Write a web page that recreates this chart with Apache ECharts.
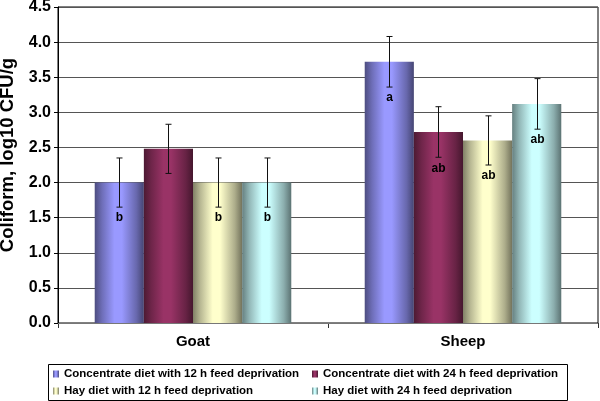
<!DOCTYPE html>
<html><head><meta charset="utf-8">
<script src="https://cdn.jsdelivr.net/npm/echarts@6/dist/echarts.min.js"></script>
<style>html,body{margin:0;padding:0;background:#fff}#c{width:600px;height:401px}</style>
</head><body><div id="c"></div>
<script>
const categories = ['Goat', 'Sheep'];
const seriesNames = [
  'Concentrate diet with 12 h feed deprivation',
  'Concentrate diet with 24 h feed deprivation',
  'Hay diet with 12 h feed deprivation',
  'Hay diet with 24 h feed deprivation'
];
const conc12 = [2.00, 3.72];
const conc24 = [2.48, 2.72];
const hay12 = [2.00, 2.60];
const hay24 = [2.00, 3.12];
const conc12Err = [0.35, 0.36];
const conc24Err = [0.35, 0.36];
const hay12Err = [0.35, 0.35];
const hay24Err = [0.35, 0.36];
const conc12Letters = ['b', 'a'];
const conc24Letters = ['', 'ab'];
const hay12Letters = ['b', 'ab'];
const hay24Letters = ['b', 'ab'];
const yTicks = [0, 0.5, 1.0, 1.5, 2.0, 2.5, 3.0, 3.5, 4.0, 4.5];

const values = [conc12, conc24, hay12, hay24];
const errs = [conc12Err, conc24Err, hay12Err, hay24Err];
const letters = [conc12Letters, conc24Letters, hay12Letters, hay24Letters];
const baseColors = [[153,153,255],[153,51,102],[255,255,204],[204,255,255]];

function rgb(c, f){ return 'rgb(' + c.map(v => Math.round(v*f)).join(',') + ')'; }
function grad(c){
  return new echarts.graphic.LinearGradient(0,0,1,0,[
    {offset:0, color: rgb(c,0.5)},
    {offset:0.15, color: rgb(c,0.72)},
    {offset:0.4, color: rgb(c,1)},
    {offset:0.55, color: rgb(c,1)},
    {offset:0.85, color: rgb(c,0.68)},
    {offset:1, color: rgb(c,0.45)}
  ]);
}
const FONT = '"Liberation Sans", Arial, sans-serif';
const barCatGap = 0.272;

const series = [];
values.forEach((vals, i) => {
  series.push({
    name: seriesNames[i], type: 'bar', data: vals,
    barGap: '0%', barCategoryGap: '27.2%',
    itemStyle: { color: grad(baseColors[i]) },
    emphasis: { disabled: true }
  });
});
values.forEach((vals, i) => {
  series.push({
    type: 'custom', silent: true, z: 10,
    data: vals.map((v, k) => [k, v, errs[i][k]]),
    renderItem: function(params, api){
      const k = api.value(0), v = api.value(1), e = api.value(2);
      const lab = letters[i][k];
      const catW = api.size([1, 0])[0];
      const barW = catW * (1 - barCatGap) / 4;
      const x = Math.round(api.coord([k, v])[0] + (i - 1.5) * barW) + 0.5;
      const yHi = api.coord([k, v + e])[1];
      const yLo = api.coord([k, v - e])[1];
      const st = { stroke: '#111', lineWidth: 1 };
      const children = [
        { type: 'line', shape: { x1: x, y1: yHi, x2: x, y2: yLo }, style: st },
        { type: 'line', shape: { x1: x-3, y1: yHi, x2: x+3, y2: yHi }, style: st },
        { type: 'line', shape: { x1: x-3, y1: yLo, x2: x+3, y2: yLo }, style: st }
      ];
      if (lab) children.push({ type: 'text', style: { text: lab, x: x, y: yLo + 11, align: 'center', verticalAlign: 'middle', font: 'bold 12px ' + FONT, fill: '#000' } });
      return { type: 'group', children: children };
    }
  });
});

const legendText = { fontFamily: FONT, fontWeight: 'bold', fontSize: 11.5, color: '#000', lineHeight: 14 };
const chart = echarts.init(document.getElementById('c'), null, { renderer: 'canvas' });
chart.setOption({
  animation: false,
  backgroundColor: '#fff',
  grid: { left: 58, right: 2, top: 7, bottom: 78, show: true, borderColor: '#000', borderWidth: 1,
    containLabel: false, outerBoundsMode: 'none' },
  xAxis: {
    type: 'category', data: categories,
    axisLine: { lineStyle: { color: '#777', width: 1 } },
    axisTick: { show: true, length: 5, lineStyle: { color: '#333' } },
    axisLabel: { fontFamily: FONT, fontWeight: 'bold', fontSize: 15, color: '#000', margin: 11 }
  },
  yAxis: {
    type: 'value', min: yTicks[0], max: yTicks[yTicks.length-1], interval: 0.5,
    name: 'Coliform, log10 CFU/g', nameLocation: 'middle', nameGap: 38, nameRotate: 90,
    nameTextStyle: { fontFamily: FONT, fontWeight: 'bold', fontSize: 18.5, color: '#000', padding: [0, 0, 0, 20] },
    axisLine: { show: true, lineStyle: { color: '#000' } },
    axisTick: { show: true, length: 4, inside: false, lineStyle: { color: '#000' } },
    axisLabel: { fontFamily: FONT, fontWeight: 'bold', fontSize: 16, color: '#000', margin: 7,
      formatter: v => v.toFixed(1) },
    splitLine: { lineStyle: { color: '#555', width: 1 } }
  },
  legend: [
    { data: [seriesNames[0], seriesNames[2]], orient: 'horizontal', left: 53, top: 367, width: 250, padding: 0,
      itemWidth: 6, itemHeight: 7, itemGap: 3, icon: 'rect', align: 'left',
      textStyle: legendText },
    { data: [seriesNames[1], seriesNames[3]], orient: 'horizontal', left: 312, top: 367, width: 250, padding: 0,
      itemWidth: 6, itemHeight: 7, itemGap: 3, icon: 'rect', align: 'left',
      textStyle: legendText }
  ],
  graphic: [
    { type: 'rect', shape: { x: 48.5, y: 364.5, width: 519, height: 36 }, style: { fill: 'none', stroke: '#000', lineWidth: 1 }, silent: true },
    { type: 'line', shape: { x1: 58, y1: 323.5, x2: 598, y2: 323.5 }, style: { stroke: '#777', lineWidth: 1 }, silent: true, z: 100 }
  ],
  series: series
});
</script></body></html>
